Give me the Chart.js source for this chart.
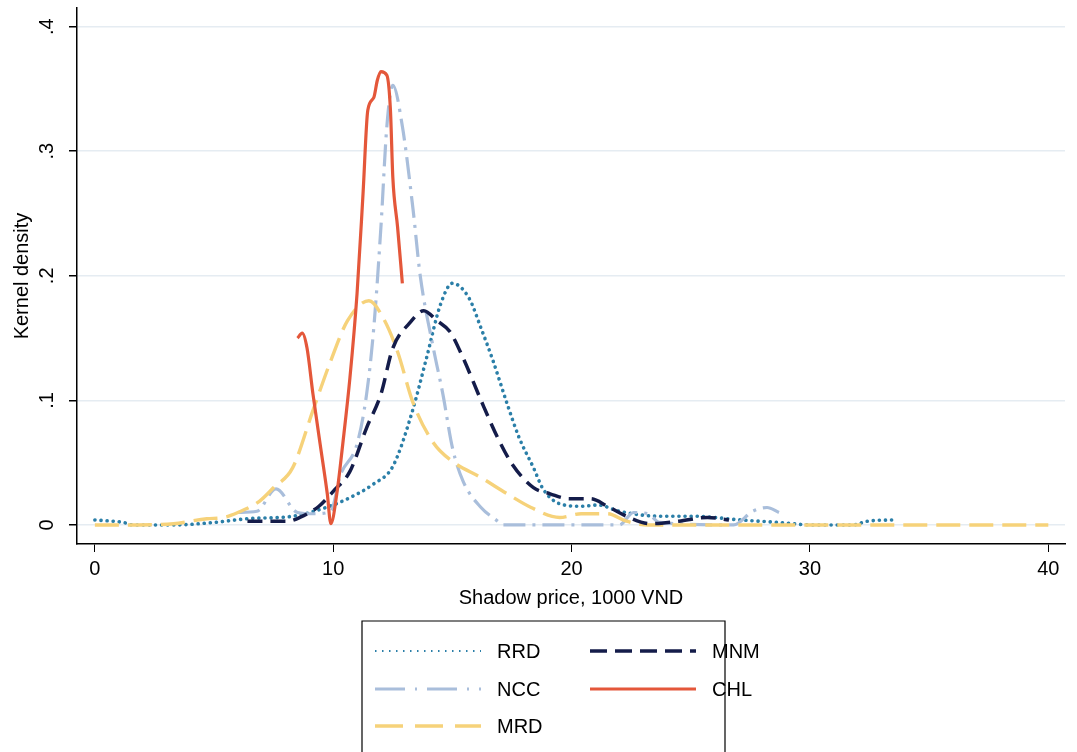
<!DOCTYPE html>
<html>
<head>
    <title>Kernel density of shadow price</title>
    <script src="https://cdn.jsdelivr.net/npm/chart.js"></script>
    <style>
        body { margin: 0; background: #fff; }
        .chart-wrap { width: 1077px; height: 752px; position: relative; }
    </style>
</head>
<body>
    <div class="chart-wrap">
        <canvas id="densityChart"></canvas>
    </div>

    <script>
        // series labels (legend order)
        const seriesNames = ['RRD', 'NCC', 'MRD', 'MNM', 'CHL'];
        const xTicks = [0, 10, 20, 30, 40];
        const yTicks = [0, 0.1, 0.2, 0.3, 0.4];

        const rrdX = [0, 1.2, 1.6, 3.3, 5, 6.4, 8.3, 9.7, 10.6, 11.7, 12.5, 13.3, 13.9, 14.5, 15.0, 15.7, 16.2, 16.7, 17.3, 17.8, 18.4, 18.8, 19.5, 20.4, 21.1, 22.0, 23.7, 25.1, 27.1, 28.7, 30.1, 31.8, 32.4, 33.5];
        const rrdY = [0.004, 0.002, 0, 0, 0.002, 0.005, 0.007, 0.014, 0.021, 0.033, 0.047, 0.09, 0.133, 0.177, 0.194, 0.182, 0.158, 0.132, 0.097, 0.07, 0.046, 0.029, 0.017, 0.015, 0.016, 0.011, 0.007, 0.007, 0.004, 0.002, 0, 0, 0.003, 0.004];

        const nccX = [6.0, 6.8, 7.6, 8.5, 9.2, 9.9, 10.3, 11.0, 11.4, 11.7, 12.0, 12.25, 12.5, 12.9, 13.35, 13.65, 14.2, 14.6, 15.0, 15.45, 16.2, 16.9, 17.1, 22.0, 22.6, 23.2, 23.7, 26.8, 27.6, 28.2, 28.7];
        const nccY = [0.010, 0.011, 0.029, 0.010, 0.009, 0.011, 0.04, 0.065, 0.105, 0.158, 0.239, 0.32, 0.353, 0.32, 0.253, 0.2, 0.142, 0.105, 0.062, 0.035, 0.014, 0.003, 0, 0, 0.01, 0.009, 0.002, 0, 0.011, 0.014, 0.01];

        const mrdX = [0, 1.5, 3.3, 4.7, 5.4, 6.0, 6.9, 7.5, 8.3, 9.15, 9.9, 10.6, 11.5, 12.1, 12.7, 13.35, 14.2, 15.0, 16.2, 17.3, 18.3, 19.5, 20.4, 21.5, 22.3, 23.2, 30, 40];
        const mrdY = [0, 0, 0.001, 0.005, 0.006, 0.01, 0.019, 0.03, 0.046, 0.092, 0.132, 0.164, 0.18, 0.166, 0.139, 0.098, 0.066, 0.051, 0.038, 0.025, 0.014, 0.006, 0.009, 0.009, 0.003, 0, 0, 0];

        const mnmX = [6.4, 8.1, 8.6, 9.4, 10.0, 10.7, 11.4, 12.0, 12.5, 13.2, 13.8, 14.35, 14.9, 15.45, 16.2, 16.9, 17.5, 18.4, 19.1, 19.9, 20.8, 21.5, 22.3, 23.3, 24.5, 25.7, 26.6];
        const mnmY = [0.003, 0.003, 0.006, 0.015, 0.027, 0.043, 0.078, 0.105, 0.142, 0.162, 0.172, 0.164, 0.155, 0.134, 0.1, 0.07, 0.049, 0.03, 0.025, 0.021, 0.021, 0.015, 0.007, 0.001, 0.003, 0.006, 0.004];

        const chlX = [8.5, 8.7, 8.9, 9.15, 9.45, 9.75, 9.9, 10.15, 10.4, 10.7, 11.0, 11.25, 11.45, 11.7, 11.85, 12.0, 12.25, 12.4, 12.5, 12.7, 12.9];
        const chlY = [0.150, 0.154, 0.142, 0.105, 0.065, 0.025, 0.001, 0.025, 0.065, 0.118, 0.186, 0.266, 0.333, 0.343, 0.357, 0.364, 0.361, 0.333, 0.279, 0.239, 0.194];

        function toPoints(xs, ys) {
            return xs.map((x, i) => ({ x: x, y: ys[i] }));
        }

        const FONT = '"Liberation Sans", Arial, sans-serif';

        // y tick labels are drawn turned, reading upward, like the original
        const yLabels = {
            id: 'yLabels',
            afterDraw(chart) {
                const ctx = chart.ctx;
                const scale = chart.scales.y;
                ctx.save();
                ctx.fillStyle = '#000';
                ctx.font = '20px ' + FONT;
                ctx.textAlign = 'center';
                ctx.textBaseline = 'middle';
                yTicks.forEach(v => {
                    const y = scale.getPixelForValue(v);
                    const txt = v === 0 ? '0' : v.toFixed(1).replace(/^0/, '');
                    ctx.save();
                    ctx.translate(47, y);
                    ctx.rotate(-Math.PI / 2);
                    ctx.fillText(txt, 0, 0);
                    ctx.restore();
                });
                ctx.restore();
            }
        };

        // legend drawn as a boxed two-column key under the plot
        const boxLegend = {
            id: 'boxLegend',
            afterDraw(chart) {
                const ctx = chart.ctx;
                const left = 362, top = 621, right = 725;
                ctx.save();
                ctx.strokeStyle = '#000';
                ctx.lineWidth = 1.2;
                ctx.beginPath();
                ctx.moveTo(left, 760);
                ctx.lineTo(left, top);
                ctx.lineTo(right, top);
                ctx.lineTo(right, 760);
                ctx.stroke();

                // column-major layout: 3 rows
                const cols = [375, 590];
                const rows = [651, 689, 726];
                chart.data.datasets.forEach((ds, i) => {
                    const c = Math.floor(i / 3), r = i % 3;
                    const x0 = cols[c], y = rows[r];
                    ctx.save();
                    ctx.strokeStyle = ds.borderColor;
                    ctx.lineWidth = ds.legendWidth || ds.borderWidth;
                    ctx.lineCap = ds.legendCap || 'butt';
                    ctx.setLineDash(ds.legendDash || ds.borderDash || []);
                    ctx.beginPath();
                    ctx.moveTo(x0, y);
                    ctx.lineTo(x0 + 106, y);
                    ctx.stroke();
                    ctx.restore();
                    ctx.fillStyle = '#000';
                    ctx.font = '20px ' + FONT;
                    ctx.textBaseline = 'middle';
                    ctx.fillText(ds.label, x0 + 122, y + 1);
                });
                ctx.restore();
            }
        };

        const ctx = document.getElementById('densityChart').getContext('2d');
        new Chart(ctx, {
            type: 'line',
            data: {
                datasets: [
                    {
                        label: seriesNames[0],
                        data: toPoints(rrdX, rrdY),
                        borderColor: '#2b7fa8',
                        borderWidth: 3.6,
                        borderDash: [0.1, 6],
                        borderCapStyle: 'round',
                        legendWidth: 2,
                        legendDash: [1.5, 5.5],
                        order: 5
                    },
                    {
                        label: seriesNames[1],
                        data: toPoints(nccX, nccY),
                        borderColor: '#a9bedb',
                        borderWidth: 3.2,
                        borderDash: [22, 7, 3, 7],
                        legendDash: [30, 10, 2, 10],
                        order: 4
                    },
                    {
                        label: seriesNames[2],
                        data: toPoints(mrdX, mrdY),
                        borderColor: '#f6d27a',
                        borderWidth: 3.4,
                        borderDash: [24, 9],
                        legendDash: [28, 12],
                        order: 3
                    },
                    {
                        label: seriesNames[3],
                        data: toPoints(mnmX, mnmY),
                        borderColor: '#141c4a',
                        borderWidth: 3.5,
                        borderDash: [15, 8],
                        legendDash: [17, 8],
                        order: 2
                    },
                    {
                        label: seriesNames[4],
                        data: toPoints(chlX, chlY),
                        borderColor: '#e4573a',
                        borderWidth: 3.2,
                        order: 1
                    }
                ]
            },
            options: {
                responsive: true,
                maintainAspectRatio: false,
                animation: false,
                elements: {
                    point: { radius: 0 },
                    line: { tension: 0.4, cubicInterpolationMode: 'monotone', fill: false }
                },
                layout: {
                    padding: { left: 6, right: 12, top: 8, bottom: 142 }
                },
                plugins: {
                    legend: { display: false },
                    tooltip: { enabled: false }
                },
                scales: {
                    x: {
                        type: 'linear',
                        min: -0.75,
                        max: 40.7,
                        afterBuildTicks: (scale) => {
                            scale.ticks = xTicks.map(v => ({ value: v }));
                        },
                        ticks: {
                            color: '#000',
                            font: { size: 20, family: FONT },
                            padding: 5,
                            maxRotation: 0
                        },
                        grid: {
                            drawOnChartArea: false,
                            tickColor: '#000',
                            tickLength: 8
                        },
                        border: { color: '#000', width: 1.5 },
                        title: {
                            display: true,
                            text: 'Shadow price, 1000 VND',
                            color: '#000',
                            font: { size: 20, family: FONT },
                            padding: { top: 0, bottom: 0 }
                        }
                    },
                    y: {
                        type: 'linear',
                        min: -0.0153,
                        max: 0.415,
                        afterBuildTicks: (scale) => {
                            scale.ticks = yTicks.map(v => ({ value: v }));
                        },
                        afterFit: (scale) => {
                            scale.width = 71;
                        },
                        ticks: {
                            display: false
                        },
                        grid: {
                            color: '#e5ecf2',
                            lineWidth: 1.5,
                            tickColor: '#000',
                            tickLength: 8
                        },
                        border: { color: '#000', width: 1.5 },
                        title: {
                            display: true,
                            text: 'Kernel density',
                            color: '#000',
                            font: { size: 20, family: FONT },
                            padding: { top: 4, bottom: 0 }
                        }
                    }
                }
            },
            plugins: [yLabels, boxLegend]
        });
    </script>
</body>
</html>
